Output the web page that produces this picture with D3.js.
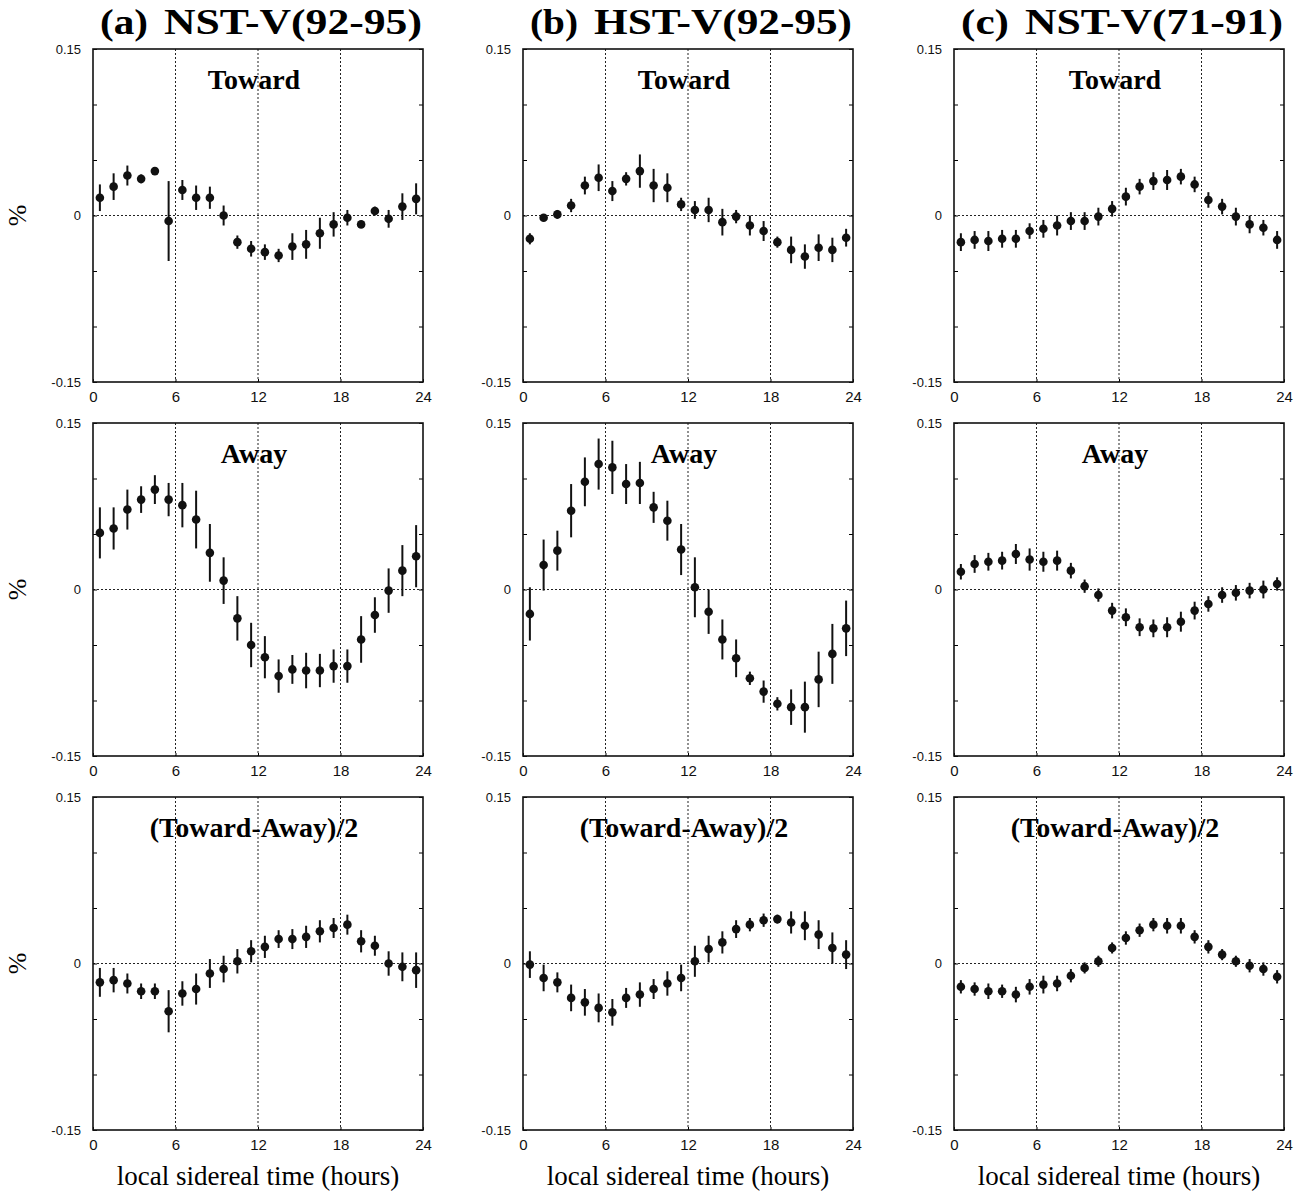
<!DOCTYPE html>
<html>
<head>
<meta charset="utf-8">
<script src="https://cdn.jsdelivr.net/npm/d3@7"></script>
<style>
  body { margin: 0; background: #fff; }
  svg { font-family: "Liberation Serif", "Times New Roman", serif; }
  .tick text { fill: #111; }
</style>
</head>
<body>
<div id="chart"></div>
<script>
// local sidereal time bins (hours)
const hours = [0.5, 1.5, 2.5, 3.5, 4.5, 5.5, 6.5, 7.5, 8.5, 9.5, 10.5, 11.5,
  12.5, 13.5, 14.5, 15.5, 16.5, 17.5, 18.5, 19.5, 20.5, 21.5, 22.5, 23.5];

const colLetters = ["(a)", "(b)", "(c)"];
const colNames = ["NST-V(92-95)", "HST-V(92-95)", "NST-V(71-91)"];
const rowLabels = ["Toward", "Away", "(Toward-Away)/2"];
const xTicks = [0, 6, 12, 18, 24];
const yTicks = [-0.15, -0.1, -0.05, 0, 0.05, 0.1, 0.15];
const yLabels = { "-0.15": "-0.15", "0": "0", "0.15": "0.15" };

// Toward
const towardA = [0.016, 0.026, 0.036, 0.033, 0.040, -0.005, 0.023, 0.016, 0.016, 0.000, -0.024, -0.030, -0.033, -0.036, -0.028, -0.026, -0.016, -0.008, -0.002, -0.008, 0.004, -0.003, 0.008, 0.015];
const towardAErr = [0.012, 0.012, 0.009, 0.004, 0.003, 0.036, 0.009, 0.011, 0.010, 0.009, 0.006, 0.007, 0.007, 0.006, 0.012, 0.013, 0.014, 0.011, 0.007, 0.003, 0.004, 0.008, 0.012, 0.014];
const towardB = [-0.021, -0.002, 0.001, 0.009, 0.027, 0.034, 0.022, 0.033, 0.040, 0.027, 0.025, 0.010, 0.005, 0.005, -0.006, -0.001, -0.009, -0.014, -0.024, -0.031, -0.037, -0.029, -0.031, -0.020];
const towardBErr = [0.005, 0.002, 0.004, 0.006, 0.008, 0.012, 0.009, 0.006, 0.015, 0.015, 0.013, 0.006, 0.008, 0.011, 0.012, 0.006, 0.009, 0.009, 0.005, 0.012, 0.011, 0.012, 0.011, 0.008];
const towardC = [-0.024, -0.022, -0.023, -0.021, -0.021, -0.014, -0.012, -0.009, -0.005, -0.005, -0.001, 0.006, 0.017, 0.026, 0.031, 0.032, 0.035, 0.028, 0.014, 0.008, -0.001, -0.008, -0.011, -0.022];
const towardCErr = [0.008, 0.008, 0.009, 0.008, 0.008, 0.007, 0.008, 0.009, 0.008, 0.008, 0.008, 0.007, 0.008, 0.007, 0.008, 0.009, 0.007, 0.007, 0.007, 0.007, 0.008, 0.008, 0.007, 0.008];

// Away
const awayA = [0.051, 0.055, 0.072, 0.081, 0.090, 0.081, 0.076, 0.063, 0.033, 0.008, -0.026, -0.050, -0.061, -0.078, -0.072, -0.073, -0.073, -0.069, -0.069, -0.045, -0.023, -0.001, 0.017, 0.030];
const awayAErr = [0.023, 0.019, 0.018, 0.012, 0.013, 0.015, 0.020, 0.026, 0.026, 0.021, 0.020, 0.020, 0.019, 0.015, 0.013, 0.016, 0.015, 0.015, 0.015, 0.021, 0.016, 0.020, 0.023, 0.028];
const awayB = [-0.022, 0.022, 0.035, 0.071, 0.097, 0.113, 0.110, 0.095, 0.096, 0.074, 0.062, 0.036, 0.002, -0.020, -0.045, -0.062, -0.080, -0.092, -0.103, -0.106, -0.106, -0.081, -0.058, -0.035];
const awayBErr = [0.024, 0.023, 0.018, 0.024, 0.022, 0.023, 0.024, 0.018, 0.019, 0.014, 0.018, 0.023, 0.027, 0.020, 0.018, 0.017, 0.006, 0.010, 0.006, 0.016, 0.023, 0.025, 0.027, 0.025];
const awayC = [0.016, 0.023, 0.025, 0.026, 0.032, 0.027, 0.025, 0.026, 0.017, 0.003, -0.005, -0.019, -0.025, -0.034, -0.035, -0.034, -0.029, -0.019, -0.013, -0.005, -0.003, -0.001, 0.000, 0.005];
const awayCErr = [0.007, 0.008, 0.008, 0.008, 0.009, 0.010, 0.009, 0.009, 0.007, 0.006, 0.006, 0.007, 0.008, 0.008, 0.008, 0.009, 0.009, 0.008, 0.007, 0.007, 0.007, 0.007, 0.008, 0.006];

// (Toward-Away)/2
const diffA = [-0.017, -0.015, -0.018, -0.025, -0.025, -0.043, -0.027, -0.023, -0.009, -0.005, 0.002, 0.011, 0.015, 0.022, 0.022, 0.024, 0.029, 0.032, 0.035, 0.020, 0.016, 0.000, -0.003, -0.006];
const diffAErr = [0.013, 0.011, 0.009, 0.007, 0.007, 0.019, 0.011, 0.014, 0.013, 0.012, 0.011, 0.010, 0.010, 0.008, 0.009, 0.010, 0.010, 0.009, 0.009, 0.010, 0.009, 0.011, 0.013, 0.016];
const diffB = [-0.001, -0.013, -0.017, -0.031, -0.035, -0.040, -0.044, -0.031, -0.028, -0.023, -0.018, -0.013, 0.002, 0.013, 0.019, 0.031, 0.035, 0.039, 0.040, 0.037, 0.034, 0.026, 0.014, 0.008];
const diffBErr = [0.012, 0.012, 0.009, 0.012, 0.012, 0.013, 0.012, 0.009, 0.011, 0.009, 0.011, 0.012, 0.014, 0.012, 0.010, 0.008, 0.006, 0.006, 0.004, 0.010, 0.013, 0.013, 0.014, 0.013];
const diffC = [-0.021, -0.023, -0.025, -0.025, -0.028, -0.021, -0.019, -0.018, -0.011, -0.004, 0.002, 0.014, 0.023, 0.030, 0.035, 0.034, 0.034, 0.024, 0.015, 0.008, 0.002, -0.002, -0.005, -0.012];
const diffCErr = [0.006, 0.006, 0.007, 0.006, 0.007, 0.007, 0.008, 0.007, 0.006, 0.005, 0.005, 0.005, 0.006, 0.006, 0.006, 0.007, 0.007, 0.006, 0.006, 0.005, 0.005, 0.006, 0.006, 0.006];

const series = [
  [[towardA, towardAErr], [towardB, towardBErr], [towardC, towardCErr]],
  [[awayA, awayAErr], [awayB, awayBErr], [awayC, awayCErr]],
  [[diffA, diffAErr], [diffB, diffBErr], [diffC, diffCErr]],
];

const svg = d3.select("#chart").append("svg")
  .attr("width", 1316)
  .attr("height", 1201);

const colLeft = [93, 523, 954];
const rowTop = [49, 423, 797];
const w = 330, h = 333;

const x = d3.scaleLinear().domain([0, 24]).range([0, w]);
const y = d3.scaleLinear().domain([-0.15, 0.15]).range([h, 0]);

// column titles, stretched a little like the printed ones
colLetters.forEach((t, c) => {
  svg.append("text")
    .attr("x", colLeft[c] + 7)
    .attr("y", 34)
    .attr("font-size", 35)
    .attr("font-weight", "bold")
    .attr("textLength", 48)
    .attr("lengthAdjust", "spacingAndGlyphs")
    .text(t);
  svg.append("text")
    .attr("x", colLeft[c] + 71)
    .attr("y", 34)
    .attr("font-size", 35)
    .attr("font-weight", "bold")
    .attr("textLength", 258)
    .attr("lengthAdjust", "spacingAndGlyphs")
    .text(colNames[c]);
});

series.forEach((row, r) => {
  row.forEach(([vals, errs], c) => {
    const pts = hours.map((hr, i) => ({ hr, v: vals[i], e: errs[i] }));
    const g = svg.append("g")
      .attr("transform", `translate(${colLeft[c]},${rowTop[r]})`);

    // dotted grid at 6/12/18 and zero line
    g.selectAll("line.vgrid")
      .data([6, 12, 18])
      .join("line")
      .attr("class", "vgrid")
      .attr("x1", d => x(d)).attr("x2", d => x(d))
      .attr("y1", 0).attr("y2", h)
      .attr("stroke", "#222")
      .attr("stroke-width", 1)
      .attr("stroke-dasharray", "2,2");

    g.append("line")
      .attr("x1", 0).attr("x2", w)
      .attr("y1", y(0)).attr("y2", y(0))
      .attr("stroke", "#222")
      .attr("stroke-width", 1)
      .attr("stroke-dasharray", "2,2");

    // axes, ticks pointing inward
    const left = g.append("g")
      .call(d3.axisLeft(y).tickValues(yTicks).tickSize(-4).tickPadding(12)
        .tickFormat(d => yLabels[String(+d.toFixed(2))] || ""));
    left.select(".domain").remove();
    left.selectAll("text").attr("font-size", 13);

    const right = g.append("g")
      .attr("transform", `translate(${w},0)`)
      .call(d3.axisRight(y).tickValues(yTicks).tickSize(-4).tickFormat(""));
    right.select(".domain").remove();

    const bottom = g.append("g")
      .attr("transform", `translate(0,${h})`)
      .call(d3.axisBottom(x).tickValues(xTicks).tickSize(-3).tickPadding(9));
    bottom.select(".domain").remove();
    bottom.selectAll("text").attr("font-size", 15);

    // frame
    g.append("rect")
      .attr("width", w).attr("height", h)
      .attr("fill", "none")
      .attr("stroke", "#111")
      .attr("stroke-width", 1.6);

    // error bars and points
    g.selectAll("line.err")
      .data(pts)
      .join("line")
      .attr("class", "err")
      .attr("x1", d => x(d.hr)).attr("x2", d => x(d.hr))
      .attr("y1", d => y(d.v + d.e)).attr("y2", d => y(d.v - d.e))
      .attr("stroke", "#111")
      .attr("stroke-width", 2);

    g.selectAll("circle")
      .data(pts)
      .join("circle")
      .attr("cx", d => x(d.hr))
      .attr("cy", d => y(d.v))
      .attr("r", 4.3)
      .attr("fill", "#111");

    // panel label
    g.append("text")
      .attr("x", w / 2 - 4)
      .attr("y", 40)
      .attr("text-anchor", "middle")
      .attr("font-size", 28)
      .attr("font-weight", "bold")
      .text(rowLabels[r]);

    if (c === 0) {
      svg.append("text")
        .attr("transform", `translate(26,${rowTop[r] + y(0)}) rotate(-90)`)
        .attr("text-anchor", "middle")
        .attr("font-size", 26)
        .text("%");
    }
    if (r === 2) {
      g.append("text")
        .attr("x", w / 2)
        .attr("y", h + 55)
        .attr("text-anchor", "middle")
        .attr("font-size", 27)
        .text("local sidereal time (hours)");
    }
  });
});
</script>
</body>
</html>
